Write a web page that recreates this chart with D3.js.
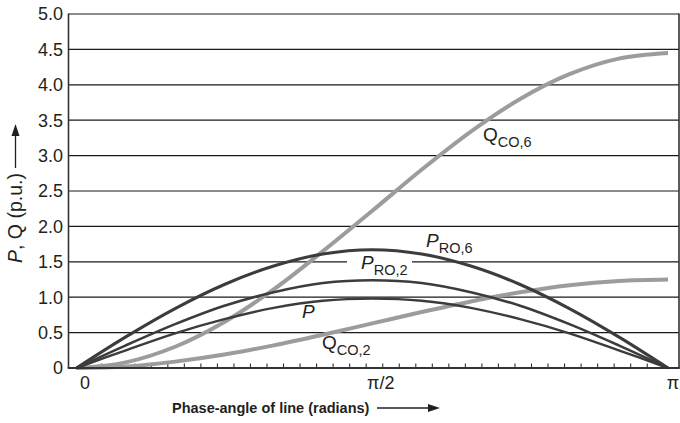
<!DOCTYPE html>
<html>
<head>
<meta charset="utf-8">
<script src="https://cdn.jsdelivr.net/npm/d3@7/dist/d3.min.js"></script>
<style>
  html, body { margin: 0; padding: 0; background: #fff; }
  svg { display: block; font-family: "Liberation Sans", Arial, Helvetica, sans-serif; }
</style>
</head>
<body>
<svg id="chart" width="680" height="423"></svg>
<script>
// ---- data ----
// phase angle samples, in multiples of pi/12 (15 degrees)
const angleSteps = [0, 1, 2, 3, 4, 5, 6, 7, 8, 9, 10, 11, 12];
const pValues     = [0, 0.25, 0.49, 0.69, 0.85, 0.95, 0.98, 0.95, 0.85, 0.69, 0.49, 0.25, 0];
const pRO2Values  = [0, 0.32, 0.62, 0.88, 1.07, 1.20, 1.24, 1.20, 1.07, 0.88, 0.62, 0.32, 0];
const pRO6Values  = [0, 0.44, 0.84, 1.18, 1.44, 1.61, 1.67, 1.61, 1.44, 1.18, 0.84, 0.44, 0];
const qCO2Values  = [0, 0.02, 0.09, 0.19, 0.32, 0.47, 0.63, 0.79, 0.94, 1.07, 1.17, 1.23, 1.25];
const qCO6Values  = [0, 0.08, 0.30, 0.65, 1.11, 1.65, 2.22, 2.80, 3.34, 3.80, 4.15, 4.37, 4.45];
const yTickValues = [0, 0.5, 1.0, 1.5, 2.0, 2.5, 3.0, 3.5, 4.0, 4.5, 5.0];
const yTickLabels = ["0", "0.5", "1.0", "1.5", "2.0", "2.5", "3.0", "3.5", "4.0", "4.5", "5.0"];
const xTickValues = [0, Math.PI / 2, Math.PI];
const xTickLabels = ["0", "\u03c0/2", "\u03c0"];
const yAxisTitle = "P, Q (p.u.)";
const xAxisTitle = "Phase-angle of line (radians)";

// ---- layout ----
const svg = d3.select("#chart");
const plotLeft = 68.5, plotRight = 679, plotTop = 14, plotBottom = 368;
const x = d3.scaleLinear().domain([0, Math.PI]).range([76.5, 668]);
const y = d3.scaleLinear().domain([0, 5]).range([plotBottom, plotTop]);
const textColor = "#231f20";
const darkCol = "#3c3c3c";
const greyCol = "#9c9c9c";

// minor tick marks along the bottom (approx. 5 degree spacing)
const minorTicks = d3.range(34).map(i => 0.1338 + i * 0.0878);

// gridlines
svg.append("g").selectAll("line").data(yTickValues.filter(v => v > 0))
  .join("line")
  .attr("x1", plotLeft).attr("x2", plotRight)
  .attr("y1", d => y(d)).attr("y2", d => y(d))
  .attr("stroke", "#1a1a1a").attr("stroke-width", 1.2);

// frame
svg.append("line").attr("x1", plotLeft).attr("x2", plotLeft).attr("y1", plotTop - 0.6).attr("y2", plotBottom)
  .attr("stroke", "#333").attr("stroke-width", 1.6);
svg.append("line").attr("x1", plotRight).attr("x2", plotRight).attr("y1", plotTop - 0.6).attr("y2", plotBottom)
  .attr("stroke", "#333").attr("stroke-width", 1.6);

// minor ticks
svg.append("g").selectAll("line").data(minorTicks).join("line")
  .attr("x1", d => x(d)).attr("x2", d => x(d))
  .attr("y1", plotBottom).attr("y2", plotBottom - 4.5)
  .attr("stroke", "#333").attr("stroke-width", 1.1);

// white background behind P_RO,2 label (breaks the gridline)
svg.append("rect").attr("x", 347).attr("y", y(1.5) - 5).attr("width", 65).attr("height", 10).attr("fill", "#fff");

// curves
const line = d3.line()
  .x((d, i) => x(angleSteps[i] * Math.PI / 12))
  .y(d => y(d))
  .curve(d3.curveCatmullRom.alpha(0.5));

const series = [
  { v: qCO2Values, c: greyCol, w: 4 },
  { v: qCO6Values, c: greyCol, w: 4 },
  { v: pValues,    c: darkCol, w: 2.4 },
  { v: pRO2Values, c: darkCol, w: 2.6 },
  { v: pRO6Values, c: darkCol, w: 3.1 }
];
svg.append("g").selectAll("path").data(series).join("path")
  .attr("d", d => line(d.v))
  .attr("fill", "none")
  .attr("stroke", d => d.c)
  .attr("stroke-width", d => d.w)
  .attr("stroke-linejoin", "round");

// bottom axis line
svg.append("line").attr("x1", plotLeft - 0.8).attr("x2", plotRight + 0.8).attr("y1", plotBottom).attr("y2", plotBottom)
  .attr("stroke", "#333").attr("stroke-width", 2);

// y tick labels
svg.append("g").selectAll("text").data(yTickValues).join("text")
  .attr("x", 63).attr("y", d => y(d) + 6.3)
  .attr("text-anchor", "end")
  .attr("font-size", 18)
  .attr("fill", textColor)
  .text((d, i) => yTickLabels[i]);

// x tick labels
svg.append("g").selectAll("text").data(xTickValues).join("text")
  .attr("x", (d, i) => x(d) + (i === 2 ? 5 : 8.5)).attr("y", 389)
  .attr("text-anchor", "middle")
  .attr("font-size", 18)
  .attr("fill", textColor)
  .text((d, i) => xTickLabels[i]);

// y axis title with arrow
const yt = svg.append("text")
  .attr("transform", "translate(21.5,263) rotate(-90)")
  .attr("font-size", 19.5)
  .attr("fill", textColor);
yt.append("tspan").attr("font-style", "italic").text("P");
yt.append("tspan").text(yAxisTitle.slice(1));
svg.append("line").attr("x1", 15.5).attr("x2", 15.5).attr("y1", 168).attr("y2", 134)
  .attr("stroke", textColor).attr("stroke-width", 1.3);
svg.append("path").attr("d", "M15.5,124 L11.5,136 L19.5,136 Z").attr("fill", textColor);

// x axis title with arrow
svg.append("text").attr("x", 172).attr("y", 413)
  .attr("font-size", 14.5).attr("font-weight", "bold").attr("fill", textColor)
  .text(xAxisTitle);
svg.append("line").attr("x1", 377).attr("x2", 430).attr("y1", 408).attr("y2", 408)
  .attr("stroke", textColor).attr("stroke-width", 1.3);
svg.append("path").attr("d", "M440,408 L428,404 L428,412 Z").attr("fill", textColor);

// curve labels
function curveLabel(px, py, main, sub, italic) {
  const t = svg.append("text").attr("x", px).attr("y", py).attr("fill", textColor);
  t.append("tspan").attr("font-size", 19).attr("font-style", italic ? "italic" : "normal").text(main);
  if (sub) t.append("tspan").attr("font-size", 14.5).attr("dy", 5.5).text(sub);
}
curveLabel(483, 141, "Q", "CO,6", false);
curveLabel(426, 247, "P", "RO,6", true);
curveLabel(361, 269, "P", "RO,2", true);
curveLabel(302, 318, "P", null, true);
curveLabel(322, 349, "Q", "CO,2", false);
</script>
</body>
</html>
